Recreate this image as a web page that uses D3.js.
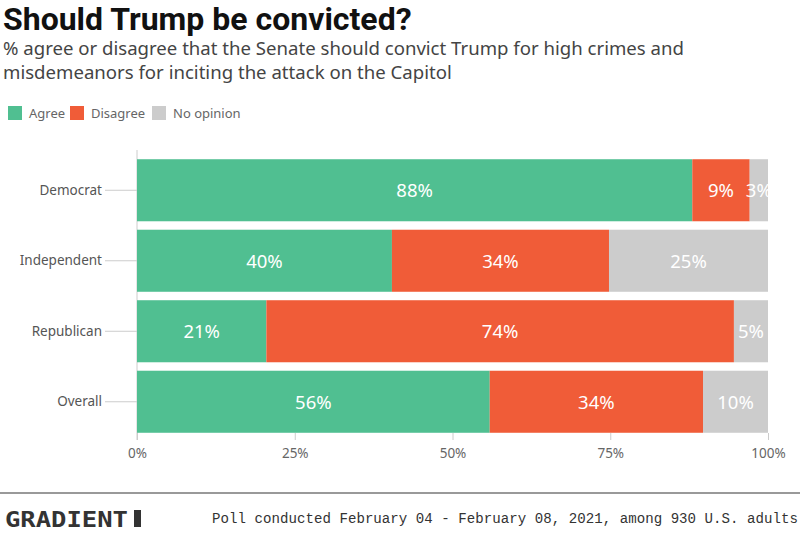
<!DOCTYPE html>
<html><head><meta charset="utf-8">
<script src="https://cdn.jsdelivr.net/npm/d3@7"></script>
<style>body{margin:0;background:#fff}svg{display:block}</style>
</head><body><svg id="c" width="800" height="533"></svg>
<script>
const categories = ["Democrat","Independent","Republican","Overall"];
const seriesNames = ["Agree","Disagree","No opinion"];
const agree = [88.0, 40.4, 20.5, 55.9];
const disagree = [9.1, 34.4, 74.1, 33.8];
const noOpinion = [2.9, 25.2, 5.4, 10.3];
const tickValues = [0, 25, 50, 75, 100];
const colors = ["#50bf91", "#f05c38", "#cccccc"];

(function () {
const svg = d3.select("#c");
const W = 800, H = 533;
const mLeft = 137, mRight = 768, mTop = 155, mBottom = 437;

svg.append("text").attr("x", 3).attr("y", 30).attr("font-family", "Roboto, 'Noto Sans', sans-serif")
  .attr("font-weight", 700).attr("font-size", 32).attr("fill", "#111").text("Should Trump be convicted?");
const sub = ["% agree or disagree that the Senate should convict Trump for high crimes and",
             "misdemeanors for inciting the attack on the Capitol"];
sub.forEach((s, i) => svg.append("text").attr("x", 3).attr("y", 55 + i * 24)
  .attr("font-family", "'Noto Sans', sans-serif").attr("font-size", 18.6).attr("fill", "#444").text(s));

// legend
const legX = [8, 70, 152];
seriesNames.forEach((n, i) => {
  const g = svg.append("g").attr("transform", `translate(${legX[i]},106)`);
  g.append("rect").attr("width", 14).attr("height", 14).attr("fill", colors[i]);
  g.append("text").attr("x", 21).attr("y", 12).attr("font-family", "'Noto Sans', sans-serif")
    .attr("font-size", 13).attr("fill", "#666").text(n);
});

const x = d3.scaleLinear().domain([0, 100]).range([mLeft, mRight]);
const y = d3.scaleBand().domain(categories).range([mTop, mBottom]).paddingInner(0.12).paddingOuter(0.06);

const data = categories.map((c, i) => ({cat: c, Agree: agree[i], Disagree: disagree[i], "No opinion": noOpinion[i]}));
const stack = d3.stack().keys(seriesNames)(data);

// axes
const xAxis = d3.axisBottom(x).tickValues(tickValues).tickFormat(d => d + "%").tickSize(7).tickPadding(8);
const gx = svg.append("g").attr("transform", `translate(0,${mBottom - 4})`).call(xAxis);
gx.select(".domain").remove();
gx.selectAll("line").attr("stroke", "#ccc");
gx.selectAll("text").attr("font-family", "'Noto Sans', sans-serif").attr("font-size", 13.5).attr("fill", "#666");

svg.append("line").attr("x1", mLeft).attr("x2", mLeft).attr("y1", 150).attr("y2", mBottom + 3).attr("stroke", "#ccc");

const yAxis = d3.axisLeft(y).tickSize(32).tickPadding(3);
const gy = svg.append("g").attr("transform", `translate(${mLeft},0)`).call(yAxis);
gy.select(".domain").remove();
gy.selectAll("line").attr("stroke", "#ccc");
gy.selectAll("text").attr("font-family", "'Noto Sans', sans-serif").attr("font-size", 13.5).attr("fill", "#555");

// bars
stack.forEach((layer, li) => {
  const g = svg.append("g");
  g.selectAll("rect").data(layer).join("rect")
    .attr("x", d => x(d[0])).attr("width", d => x(d[1]) - x(d[0]))
    .attr("y", d => y(d.data.cat)).attr("height", y.bandwidth()).attr("fill", colors[li]);
  g.selectAll("text").data(layer).join("text")
    .attr("x", d => (x(d[0]) + x(d[1])) / 2).attr("y", d => y(d.data.cat) + y.bandwidth() / 2 + 7)
    .attr("text-anchor", "middle").attr("font-family", "'Noto Sans', sans-serif").attr("font-size", 18.5)
    .attr("fill", "#fff").text(d => Math.round(d[1] - d[0]) + "%");
});

// footer
svg.append("line").attr("x1", 0).attr("x2", W).attr("y1", 493).attr("y2", 493).attr("stroke", "#777").attr("stroke-width", 1.5);
svg.append("text").attr("x", 5).attr("y", 527).attr("font-family", "'DejaVu Sans Mono', monospace")
  .attr("font-weight", 700).attr("font-size", 22).attr("fill", "#333")
  .attr("textLength", 123).attr("lengthAdjust", "spacingAndGlyphs").text("GRADIENT");
svg.append("rect").attr("x", 134).attr("y", 510).attr("width", 7).attr("height", 17).attr("fill", "#333");
svg.append("text").attr("x", 798).attr("y", 523).attr("text-anchor", "end")
  .attr("font-family", "'Liberation Mono', monospace").attr("font-size", 14.1).attr("fill", "#333")
  .attr("textLength", 586).attr("lengthAdjust", "spacing")
  .text("Poll conducted February 04 - February 08, 2021, among 930 U.S. adults");
})();
</script></body></html>
